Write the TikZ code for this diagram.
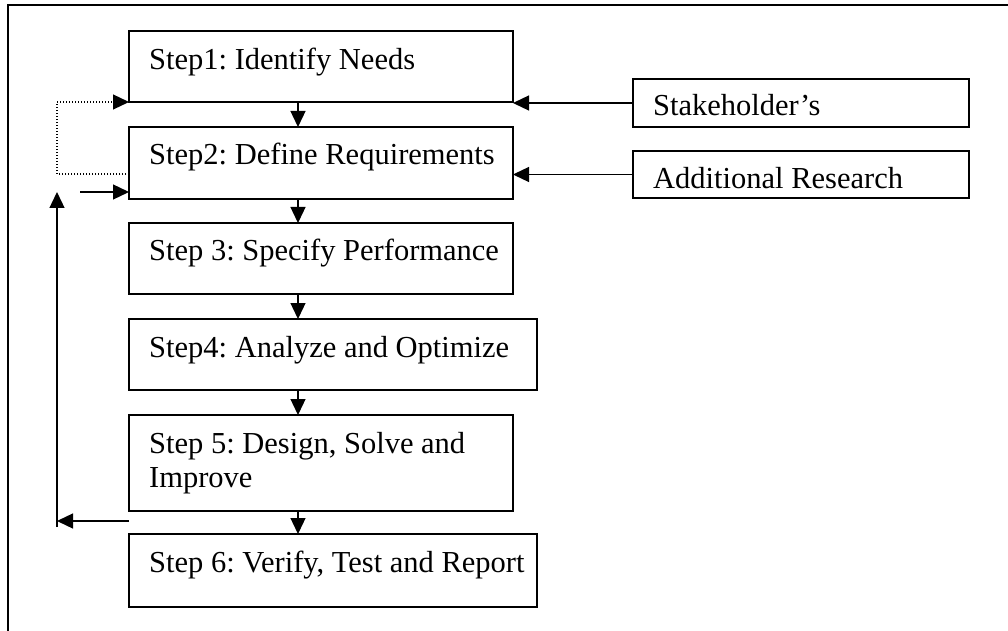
\documentclass[tikz,border=0pt]{standalone}
\usepackage{fontspec}
\setmainfont{Liberation Serif}
\usetikzlibrary{arrows.meta,calc}
\begin{document}
\frenchspacing
\begin{tikzpicture}[x=1bp,y=-1bp,
  box/.style={draw,line width=1.6bp,inner sep=0pt,outer sep=0pt,anchor=north west},
  lbl/.style={anchor=base west,inner sep=0pt,font=\fontsize{30.5bp}{34bp}\selectfont\frenchspacing},
  arr/.style={line width=1.3bp,-{Triangle[length=16bp,width=15bp]}},
  dots/.style={line width=1.2bp,dash pattern=on 1.4bp off 1.6bp,-{Triangle[length=16bp,width=15bp]}}]
\useasboundingbox (0,0) rectangle (1008,631);
% frame (cropped)
\draw[line width=1.6bp] (1010,5) -- (8,5) -- (8,640);
% step boxes
\node[box,minimum width=384bp,minimum height=71bp] (s1) at (129,31) {};
\node[box,minimum width=384bp,minimum height=72bp] (s2) at (129,127) {};
\node[box,minimum width=384bp,minimum height=71bp] (s3) at (129,223) {};
\node[box,minimum width=408bp,minimum height=71bp] (s4) at (129,319) {};
\node[box,minimum width=384bp,minimum height=96bp] (s5) at (129,415) {};
\node[box,minimum width=408bp,minimum height=73bp] (s6) at (129,534) {};
\node[box,minimum width=336bp,minimum height=48bp] (sh) at (633,79) {};
\node[box,minimum width=336bp,minimum height=47bp] (ar) at (633,151) {};
% texts
\node[lbl] (t1) at ($(s1.north west)+(20,39)$) {Step1: Identify Needs};
\node[lbl] (t2) at ($(s2.north west)+(20,38)$) {Step2: Define Requirements};
\node[lbl] (t3) at ($(s3.north west)+(20,38)$) {Step 3: Specify Performance};
\node[lbl] (t4) at ($(s4.north west)+(20,38)$) {Step4: Analyze and Optimize};
\node[lbl] (t5) at ($(s5.north west)+(20,38)$) {\parbox[t]{400bp}{Step 5: Design, Solve and\\Improve}};
\node[lbl] (t6) at ($(s6.north west)+(20,38)$) {Step 6: Verify, Test and Report};
\node[lbl] (tsh) at ($(sh.north west)+(20,37)$) {Stakeholder’s};
\node[lbl] (tar) at ($(ar.north west)+(20,38)$) {Additional Research};
% vertical flow arrows
\coordinate (cx) at (298,0);
\draw[arr] (s1.south -| cx) -- (s2.north -| cx);
\draw[arr] (s2.south -| cx) -- (s3.north -| cx);
\draw[arr] (s3.south -| cx) -- (s4.north -| cx);
\draw[arr] (s4.south -| cx) -- (s5.north -| cx);
\draw[arr] (s5.south -| cx) -- (s6.north -| cx);
% inputs from right
\draw[arr] (sh.west) -- (sh.west -| s1.east);
\draw[arr] (ar.west) -- (ar.west -| s2.east);
% dotted loop from step 2 back to step 1
\coordinate (dl) at (57,174);
\draw[dots] (dl -| s2.west) -- (dl) |- (s1.south west);
% feedback from step 5 area
\coordinate (fin) at (80,192);
\draw[arr] (fin) -- (fin -| s2.west);
\coordinate (fb) at (57,521);
\coordinate (fbb) at (57,527);
\coordinate (fbt) at (57,192);
\draw[arr] (fb -| s5.west) -- (fb);
\draw[arr] (fbb) -- (fbt);
\end{tikzpicture}
\end{document}
